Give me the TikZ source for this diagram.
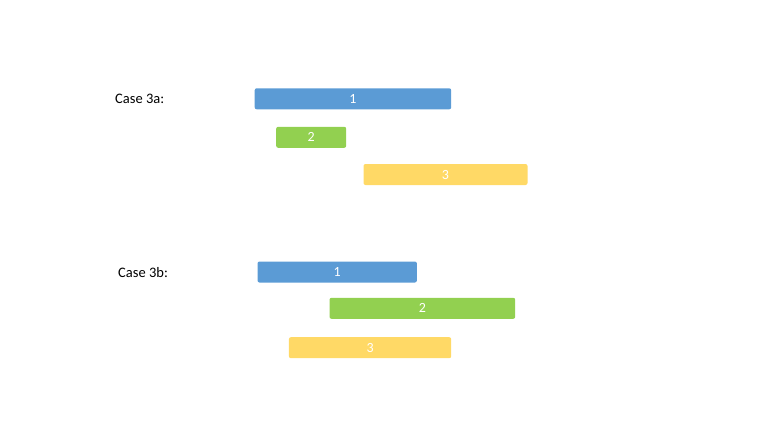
\documentclass[tikz,border=0pt]{standalone}
\usepackage{fontspec}
\setmainfont{Carlito}
\definecolor{barblue}{HTML}{5B9BD5}
\definecolor{bargreen}{HTML}{92D050}
\definecolor{baryellow}{HTML}{FFD966}

\begin{document}
\begin{tikzpicture}[x=1pt,y=-1pt,
    bar/.style={fill=#1,rounded corners=2pt,inner sep=0pt,minimum height=21pt,
        anchor=west,text=white,font=\fontsize{14}{16}\selectfont},
    caselabel/.style={anchor=west,inner sep=0pt,font=\fontsize{14.5}{17}\selectfont}
]
        \useasboundingbox (0,0) rectangle (768,432);
        % case 3a
        \node[caselabel] (lab3a) at (115,99) {Case 3a:};
        \foreach \nm/\x/\y/\w/\col/\txt in {
            a1/254.5/98.8/196.5/barblue/1,
            a2/276/137.3/70/bargreen/2,
            a3/363.3/174.5/164/baryellow/3} {
            \node[bar=\col,minimum width=\w pt] (\nm) at (\x,\y) {\txt};
        }
        % case 3b
        \node[caselabel] (lab3b) at (118,272.5) {Case 3b:};
        \foreach \nm/\x/\y/\w/\col/\txt in {
            b1/257.3/272/159.4/barblue/1,
            b2/329.3/308.3/185.7/bargreen/2,
            b3/288.7/347.7/162.3/baryellow/3} {
            \node[bar=\col,minimum width=\w pt] (\nm) at (\x,\y) {\txt};
        }
    \end{tikzpicture}
\end{document}
